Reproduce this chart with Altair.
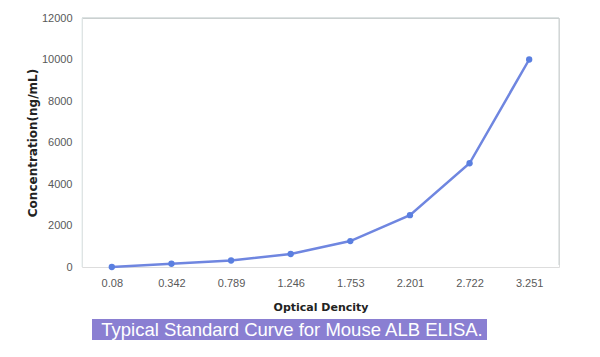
import altair as alt
import pandas as pd

od_labels = ["0.08", "0.342", "0.789", "1.246", "1.753", "2.201", "2.722", "3.251"]
concentration = [0, 156.25, 312.5, 625, 1250, 2500, 5000, 10000]
y_ticks = [0, 2000, 4000, 6000, 8000, 10000, 12000]
caption = "Typical Standard Curve for Mouse ALB ELISA."

df = pd.DataFrame({"od": od_labels, "conc": concentration})

W, H = 477, 249
FONT = "Liberation Sans"
TFONT = "DejaVu Sans"

x_enc = alt.X("od:N", sort=od_labels,
              scale=alt.Scale(paddingInner=1, paddingOuter=0.5),
              axis=alt.Axis(title="Optical Dencity", labelAngle=0, domain=False, ticks=False,
                            labelColor="#595959", labelFontSize=11, labelFont=FONT,
                            labelPadding=10, titleFontSize=11, titleFont=TFONT,
                            titleFontWeight="bold", titleColor="#222", titlePadding=13))
y_enc = alt.Y("conc:Q", scale=alt.Scale(domain=[0, 12000], nice=False),
              axis=alt.Axis(title="Concentration(ng/mL)", values=y_ticks, grid=False,
                            format="d", domain=False, ticks=False, labelColor="#595959",
                            labelFontSize=11, labelFont=FONT, labelPadding=10,
                            titleFontSize=12, titleFont=TFONT, titleFontWeight="bold",
                            titleColor="#222", titlePadding=2))

base = alt.Chart(df)
line = base.mark_line(color="#6f86e0", strokeWidth=2.5).encode(x=x_enc, y=y_enc)
pts = base.mark_circle(color="#5a7fe0", size=40, opacity=1).encode(x=x_enc, y=y_enc)

frame_df = pd.DataFrame({"k": [0]})
top_rule = alt.Chart(frame_df).mark_rule(color="#b9c4c4", strokeWidth=1).encode(
    x=alt.value(0), x2=alt.value(W), y=alt.value(0))
left_rule = alt.Chart(frame_df).mark_rule(color="#e2ecec", strokeWidth=1).encode(
    x=alt.value(0), y=alt.value(0), y2=alt.value(H))
right_rule = alt.Chart(frame_df).mark_rule(color="#c9d0d0", strokeWidth=1).encode(
    x=alt.value(W), y=alt.value(0), y2=alt.value(H - 2))

cap_df = pd.DataFrame({"t": [caption]})
box = alt.Chart(cap_df).mark_rect(color="#8a7fd2", clip=False).encode(
    x=alt.value(10), x2=alt.value(405), y=alt.value(301), y2=alt.value(322))
txt = alt.Chart(cap_df).mark_text(color="white", fontSize=18.5, font=FONT, clip=False,
                                  align="center", baseline="middle").encode(
    x=alt.value(210), y=alt.value(312), text="t:N")

chart = alt.layer(top_rule, left_rule, right_rule, line, pts, box, txt).properties(
    width=W, height=H,
    autosize=alt.AutoSizeParams(type="none"),
    padding={"left": 82, "top": 18, "right": 41, "bottom": 90},
).configure_view(stroke=None).configure(background="white")

chart.save("out.html", embed_options={"renderer": "svg", "actions": False})
